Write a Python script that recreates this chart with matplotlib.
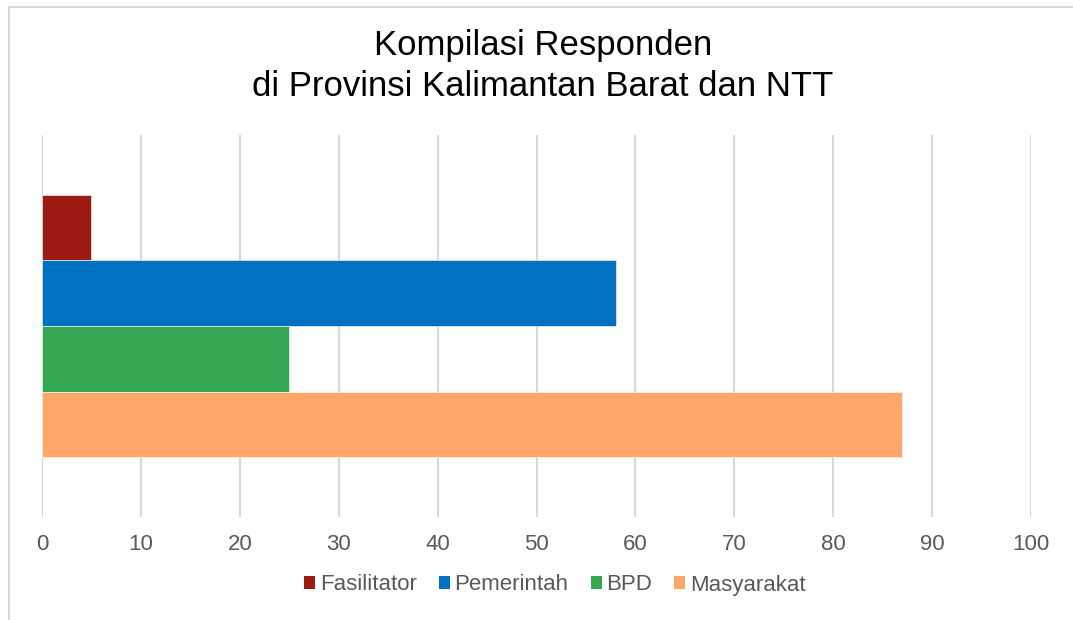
import matplotlib.pyplot as plt
from matplotlib.lines import Line2D
from matplotlib.patches import Patch

# data
series = ["Fasilitator", "Pemerintah", "BPD", "Masyarakat"]
values = [5, 58, 25, 87]
colors = ["#9C1B13", "#0070C0", "#36A853", "#FFA769"]
ticks = [0, 10, 20, 30, 40, 50, 60, 70, 80, 90, 100]

plt.rcParams["font.family"] = ["Liberation Sans", "DejaVu Sans"]

fig = plt.figure(figsize=(10.73, 6.2), dpi=100)
ax = fig.add_axes([42 / 1073, 1 - 517 / 620, (1031 - 42) / 1073, (517 - 135) / 620])

# one category, bars stacked top to bottom
bar_h = 1.0
n = len(series)
pos = [n - 1 - i for i in range(n)]
for p, v, c, s in zip(pos, values, colors, series):
    ax.barh(p, v, height=bar_h, color=c, edgecolor="white", linewidth=0.4, label=s, zorder=3)

gap = 1.83 * bar_h / 2
ax.set_ylim(-0.5 - gap, n - 0.5 + gap)
ax.set_xlim(0, 100)
ax.set_xticks(ticks)
ax.set_yticks([])
ax.grid(axis="x", color="#D9D9D9", linewidth=1.5, zorder=0)
for sp in ax.spines.values():
    sp.set_visible(False)
ax.tick_params(axis="x", length=0, labelsize=16, labelcolor="#595959", pad=12)

fig.text(0.506, 1 - 46 / 620, "Kompilasi Responden", ha="center", va="center",
         fontsize=25, color="#000000")
fig.text(0.506, 1 - 86 / 620, "di Provinsi Kalimantan Barat dan NTT", ha="center", va="center",
         fontsize=25, color="#000000")

handles = [Patch(facecolor=c, edgecolor="none", label=s) for s, c in zip(series, colors)]
fig.legend(handles=handles, loc="center", bbox_to_anchor=(0.517, 1 - 585 / 620), ncol=4,
           frameon=False, fontsize=16, handlelength=0.5, handleheight=0.5,
           handletextpad=0.2, columnspacing=1.0, labelcolor="#595959")

# outer frame (top and left visible)
fig.add_artist(Line2D([9 / 1073, 1], [1 - 7 / 620, 1 - 7 / 620], transform=fig.transFigure,
                      color="#D9D9D9", linewidth=1.5))
fig.add_artist(Line2D([9 / 1073, 9 / 1073], [0, 1 - 7 / 620], transform=fig.transFigure,
                      color="#D9D9D9", linewidth=1.5))

fig.savefig("out.png", dpi=100)
